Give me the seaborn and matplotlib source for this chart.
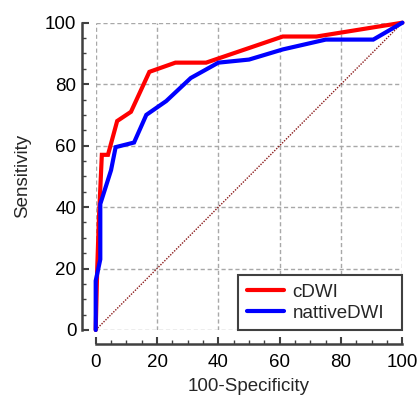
import pandas as pd
import seaborn as sns
import matplotlib.pyplot as plt
from matplotlib.ticker import MultipleLocator

# ROC curve points (100-Specificity, Sensitivity)
CDWI_X = [0, 0.5, 1, 2, 4, 7, 11.5, 17.5, 26, 36, 61, 72, 100]
CDWI_Y = [0, 20, 35, 57, 57, 68, 71, 84, 87, 87, 95.5, 95.5, 100]

NATIVE_X = [0, 0, 1.5, 1.5, 5, 6.5, 12.5, 16.5, 23, 31, 40, 50, 61, 75, 90.5, 100]
NATIVE_Y = [0, 16, 23, 41, 52, 59.5, 61, 70, 74.5, 82, 87, 88, 91.3, 94.5, 94.5, 100]

LABELS = ["cDWI", "nattiveDWI"]
TICKS = [0, 20, 40, 60, 80, 100]
DIAG = [0, 100]

df = pd.concat([
    pd.DataFrame({"x": CDWI_X, "y": CDWI_Y, "curve": LABELS[0]}),
    pd.DataFrame({"x": NATIVE_X, "y": NATIVE_Y, "curve": LABELS[1]}),
], ignore_index=True)

sns.set_theme(style="white")
plt.rcParams['font.family'] = ['Liberation Sans', 'DejaVu Sans']

FS = 13.5

fig = plt.figure(figsize=(4.19, 3.96), dpi=100)
ax = fig.add_axes([0.2284, 0.1667, 0.732, 0.776])

ax.grid(True, which="major", linestyle=(0, (3, 2)), color="#a8a8a8", linewidth=1)

# reference diagonal
ax.plot(DIAG, DIAG, color="#8b1a1a", linestyle=(0, (1, 1)), linewidth=1, zorder=2)

sns.lineplot(data=df, x="x", y="y", hue="curve", palette=["#ff0000", "#0000ff"],
             estimator=None, sort=False, linewidth=3, ax=ax, zorder=3)
for ln in ax.lines:
    ln.set_clip_on(False)
    ln.set_solid_joinstyle("miter")

ax.set_xlim(0, 100)
ax.set_ylim(0, 100)
ax.set_xticks(TICKS)
ax.set_yticks(TICKS)
ax.xaxis.set_minor_locator(MultipleLocator(5))
ax.yaxis.set_minor_locator(MultipleLocator(5))

sns.despine(ax=ax, offset=10)
for side in ["left", "bottom"]:
    ax.spines[side].set_color("#404040")
    ax.spines[side].set_linewidth(1.8)

ax.tick_params(axis="both", which="major", direction="in", length=5, width=1.5,
               color="#404040", labelsize=FS, labelcolor="black")
ax.tick_params(axis="both", which="minor", direction="in", length=3, width=1,
               color="#404040")
ax.tick_params(axis="x", which="major", pad=7)
ax.tick_params(axis="y", which="major", pad=4)
ax.tick_params(axis="both", which="both", bottom=True, left=True)

ax.set_xlabel("100-Specificity", fontsize=FS, labelpad=5)
ax.set_ylabel("Sensitivity", fontsize=FS, labelpad=10)

leg = ax.legend(loc="lower left", bbox_to_anchor=(0.465, 0.0, 0.535, 0.19),
                mode="expand", borderaxespad=0, fontsize=FS, frameon=True,
                fancybox=False, handlelength=2.0, handletextpad=0.45,
                borderpad=0.45, labelspacing=0.2)
leg.set_title(None)
leg.get_frame().set_edgecolor("#404040")
leg.get_frame().set_linewidth(1.5)
leg.get_frame().set_alpha(1)

fig.savefig("out.png", dpi=100)
